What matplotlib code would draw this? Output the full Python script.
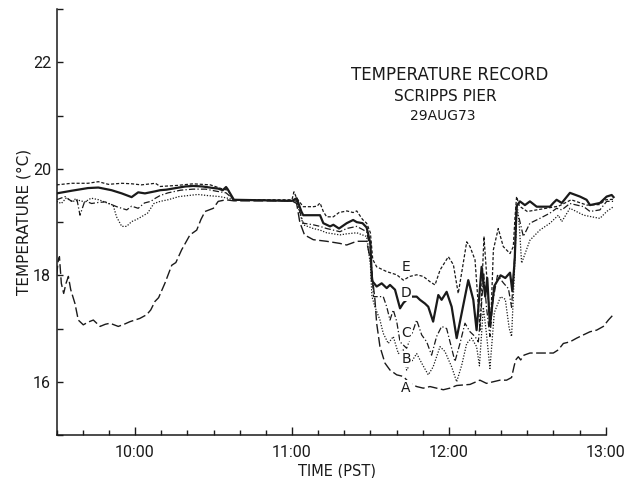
import matplotlib
matplotlib.use('Agg')
import matplotlib.pyplot as plt
from matplotlib.ticker import FixedLocator, FuncFormatter

# time in decimal hours (PST), temperature in deg C
a_time = [9.50, 9.511, 9.518, 9.53, 9.545, 9.56, 9.575, 9.59, 9.617, 9.638, 9.67, 9.70, 9.734,
          9.777, 9.81, 9.84, 9.893, 9.93, 9.968, 10.03, 10.074, 10.10, 10.127, 10.15, 10.19,
          10.234, 10.26, 10.297, 10.35, 10.393, 10.42, 10.446, 10.499, 10.53, 10.58, 10.63,
          11.00, 11.03, 11.05, 11.08, 11.136, 11.221, 11.306, 11.349, 11.413, 11.476, 11.50,
          11.529, 11.54, 11.561, 11.593, 11.625, 11.668, 11.71, 11.752, 11.795, 11.837, 11.88,
          11.922, 11.965, 12.007, 12.05, 12.092, 12.135, 12.198, 12.24, 12.283, 12.326, 12.368,
          12.40, 12.415, 12.426, 12.443, 12.458, 12.479, 12.517, 12.581, 12.666, 12.698, 12.73,
          12.772, 12.815, 12.857, 12.90, 12.942, 12.985, 13.017, 13.048]
a_temp = [18.0, 18.29, 18.35, 17.85, 17.66, 17.85, 17.98, 17.73, 17.47, 17.16, 17.07, 17.12, 17.16,
          17.04, 17.08, 17.10, 17.04, 17.08, 17.13, 17.19, 17.26, 17.35, 17.51, 17.58, 17.85,
          18.19, 18.24, 18.48, 18.76, 18.85, 19.05, 19.20, 19.26, 19.39, 19.42, 19.40,
          19.40, 19.35, 19.00, 18.76, 18.67, 18.64, 18.60, 18.57, 18.64, 18.64, 18.30,
          17.54, 17.10, 16.66, 16.35, 16.22, 16.13, 16.10, 15.97, 15.91, 15.88, 15.91,
          15.88, 15.85, 15.88, 15.93, 15.94, 15.95, 16.03, 15.97, 16.00, 16.03, 16.03,
          16.08, 16.28, 16.41, 16.47, 16.41, 16.50, 16.54, 16.54, 16.54, 16.60, 16.72,
          16.75, 16.82, 16.88, 16.94, 16.97, 17.04, 17.16, 17.26]

b_time = [9.50, 9.53, 9.56, 9.60, 9.64, 9.68, 9.72, 9.77, 9.83, 9.86, 9.882, 9.915, 9.946,
          9.978, 10.01, 10.04, 10.08, 10.12, 10.16, 10.21, 10.28, 10.34, 10.40, 10.46, 10.54,
          10.59, 10.63, 11.00, 11.03, 11.072, 11.136, 11.179, 11.221, 11.264, 11.306, 11.349,
          11.413, 11.476, 11.50, 11.51, 11.529, 11.561, 11.582, 11.614, 11.646, 11.678, 11.71,
          11.731, 11.763, 11.795, 11.827, 11.869, 11.90, 11.944, 11.975, 12.018, 12.05, 12.082,
          12.114, 12.145, 12.177, 12.195, 12.22, 12.24, 12.262, 12.29, 12.33, 12.36, 12.385,
          12.40, 12.42, 12.435, 12.45, 12.464, 12.517, 12.58, 12.645, 12.698, 12.72, 12.772,
          12.86, 12.963, 13.006, 13.05]
b_temp = [19.39, 19.35, 19.45, 19.39, 19.41, 19.38, 19.45, 19.42, 19.35, 19.32, 19.10, 18.92, 18.92,
          19.01, 19.05, 19.10, 19.17, 19.35, 19.39, 19.42, 19.48, 19.50, 19.52, 19.50, 19.48,
          19.45, 19.42, 19.40, 19.38, 18.95, 18.88, 18.85, 18.80, 18.78, 18.76, 18.78,
          18.80, 18.73, 18.20, 17.60, 17.41, 17.16, 16.91, 16.72, 16.85, 16.53, 16.60,
          16.22, 16.38, 16.53, 16.35, 16.13, 16.28, 16.66, 16.57, 16.28, 16.00, 16.31,
          16.72, 16.82, 16.66, 16.30, 17.40, 16.90, 16.25, 17.30, 17.60, 17.55, 17.00,
          16.85, 18.20, 19.35, 18.90, 18.23, 18.66, 18.85, 18.98, 19.13, 19.01, 19.26,
          19.13, 19.07, 19.20, 19.29]

c_time = [9.50, 9.554, 9.596, 9.628, 9.649, 9.68, 9.723, 9.766, 9.81, 9.85, 9.883, 9.915, 9.947,
          9.978, 10.02, 10.06, 10.10, 10.13, 10.16, 10.21, 10.29, 10.37, 10.45, 10.52, 10.58,
          10.63, 11.00, 11.03, 11.072, 11.136, 11.179, 11.221, 11.264, 11.306, 11.349, 11.413,
          11.476, 11.50, 11.52, 11.55, 11.582, 11.604, 11.625, 11.646, 11.668, 11.689, 11.731,
          11.763, 11.795, 11.827, 11.859, 11.89, 11.922, 11.954, 11.986, 12.018, 12.039, 12.071,
          12.103, 12.135, 12.167, 12.188, 12.205, 12.222, 12.24, 12.262, 12.28, 12.31, 12.35,
          12.38, 12.40, 12.42, 12.432, 12.45, 12.475, 12.517, 12.58, 12.645, 12.687, 12.72,
          12.772, 12.86, 12.90, 12.963, 13.006, 13.05]
c_temp = [19.42, 19.48, 19.39, 19.45, 19.13, 19.40, 19.35, 19.37, 19.38, 19.33, 19.29, 19.26, 19.23,
          19.30, 19.26, 19.36, 19.39, 19.45, 19.50, 19.55, 19.60, 19.62, 19.62, 19.58, 19.55,
          19.42, 19.40, 19.40, 18.98, 18.95, 18.92, 18.88, 18.85, 18.82, 18.88, 18.92,
          18.82, 18.50, 17.60, 17.60, 17.60, 17.41, 17.16, 17.35, 17.13, 16.75, 16.63,
          16.88, 17.16, 16.88, 16.75, 16.50, 16.85, 17.04, 17.00, 16.63, 16.38, 16.72,
          17.10, 16.94, 16.85, 16.75, 17.30, 18.05, 17.40, 16.85, 17.50, 18.00, 17.85,
          17.75, 17.40, 18.40, 19.20, 19.05, 18.73, 18.98, 19.07, 19.17, 19.26, 19.23,
          19.35, 19.29, 19.20, 19.23, 19.39, 19.39]

d_time = [9.50, 9.596, 9.70, 9.766, 9.85, 9.915, 9.978, 10.02, 10.063, 10.13, 10.16, 10.20,
          10.26, 10.32, 10.37, 10.43, 10.50, 10.53, 10.559, 10.58, 10.59, 10.63, 11.00, 11.03,
          11.06, 11.072, 11.136, 11.179, 11.20, 11.243, 11.264, 11.30, 11.349, 11.39, 11.413,
          11.45, 11.476, 11.50, 11.51, 11.54, 11.572, 11.604, 11.625, 11.657, 11.689, 11.71,
          11.731, 11.752, 11.795, 11.816, 11.848, 11.869, 11.90, 11.933, 11.954, 11.986, 12.018,
          12.05, 12.082, 12.124, 12.156, 12.177, 12.209, 12.232, 12.245, 12.262, 12.29, 12.33,
          12.36, 12.39, 12.405, 12.42, 12.432, 12.453, 12.485, 12.517, 12.56, 12.602, 12.645,
          12.666, 12.687, 12.72, 12.772, 12.836, 12.878, 12.90, 12.963, 13.006, 13.038, 13.05]
d_temp = [19.54, 19.59, 19.64, 19.65, 19.60, 19.54, 19.47, 19.56, 19.54, 19.58, 19.60, 19.61,
          19.64, 19.67, 19.68, 19.67, 19.64, 19.63, 19.60, 19.66, 19.62, 19.42, 19.40, 19.45,
          19.20, 19.13, 19.13, 19.13, 18.98, 18.92, 18.95, 18.88, 18.98, 19.04, 19.00,
          18.98, 18.90, 18.60, 17.90, 17.79, 17.85, 17.76, 17.82, 17.73, 17.38, 17.48,
          17.54, 17.60, 17.60, 17.54, 17.47, 17.41, 17.13, 17.63, 17.54, 17.69, 17.41,
          16.82, 17.29, 17.91, 17.54, 16.97, 18.16, 17.60, 17.95, 17.05, 17.80, 18.00,
          17.95, 18.05, 17.70, 18.30, 19.30, 19.39, 19.32, 19.39, 19.29, 19.29, 19.29,
          19.36, 19.42, 19.36, 19.55, 19.48, 19.42, 19.32, 19.36, 19.48, 19.51, 19.47]

e_time = [9.50, 9.596, 9.70, 9.766, 9.83, 9.915, 9.98, 10.04, 10.13, 10.16, 10.27, 10.37,
          10.48, 10.56, 10.595, 10.62, 11.00, 11.013, 11.03, 11.072, 11.136, 11.16, 11.179,
          11.20, 11.221, 11.264, 11.30, 11.35, 11.39, 11.413, 11.45, 11.476, 11.50, 11.515,
          11.54, 11.604, 11.668, 11.71, 11.752, 11.795, 11.837, 11.88, 11.912, 11.944, 11.997,
          12.029, 12.06, 12.092, 12.114, 12.135, 12.167, 12.199, 12.224, 12.252, 12.267, 12.284,
          12.315, 12.347, 12.39, 12.411, 12.422, 12.432, 12.45, 12.50, 12.60, 12.70, 12.78,
          12.88, 12.96, 13.00, 13.05]
e_temp = [19.70, 19.73, 19.73, 19.76, 19.71, 19.73, 19.72, 19.70, 19.73, 19.67, 19.69, 19.72,
          19.70, 19.62, 19.60, 19.42, 19.42, 19.57, 19.45, 19.29, 19.29, 19.30, 19.36,
          19.20, 19.10, 19.10, 19.18, 19.21, 19.18, 19.21, 19.05, 18.98, 18.80, 18.30,
          18.16, 18.07, 18.01, 17.91, 17.98, 18.01, 17.98, 17.88, 17.82, 18.10, 18.35,
          18.20, 17.66, 18.23, 18.63, 18.54, 18.29, 16.97, 18.73, 17.54, 17.10, 18.48,
          18.88, 18.54, 18.41, 18.54, 19.10, 19.48, 19.30, 19.20, 19.25, 19.30, 19.42,
          19.32, 19.33, 19.42, 19.43]

line_names = ['A', 'B', 'C', 'D', 'E']
label_time = [11.727, 11.727, 11.727, 11.727, 11.727]
label_temp = [15.88, 16.43, 16.92, 17.67, 18.16]

hour_ticks = [10, 11, 12, 13]
temp_ticks = [16, 18, 20, 22]

ink = '#1a1a1a'
narrow = ['Roboto', 'DejaVu Sans']

fig = plt.figure(figsize=(6.34, 4.78), dpi=100)
ax = fig.add_axes([0.0893, 0.09, 0.8834, 0.8906])

ax.plot(a_time, a_temp, color=ink, lw=1.0, ls=(0, (7, 2.5)))
ax.plot(b_time, b_temp, color=ink, lw=0.9, ls=(0, (1, 1.3)))
ax.plot(c_time, c_temp, color=ink, lw=0.9, ls=(0, (5, 1.8, 1, 1.8)))
ax.plot(d_time, d_temp, color=ink, lw=1.6, ls='-')
ax.plot(e_time, e_temp, color=ink, lw=0.9, ls=(0, (2.5, 1.5)))

for name, t, v in zip(line_names, label_time, label_temp):
    ax.text(t, v, name, ha='center', va='center', fontsize=10, color=ink,
            bbox=dict(fc='white', ec='none', pad=0.6))

ax.set_xlim(9.5, 13.07)
ax.set_ylim(15, 23)
for s in ['top', 'right']:
    ax.spines[s].set_visible(False)
ax.spines['left'].set_bounds(15, 23)
ax.spines['bottom'].set_bounds(9.5, 13.0)
for s in ['left', 'bottom']:
    ax.spines[s].set_linewidth(1.1)
    ax.spines[s].set_color(ink)

ax.xaxis.set_major_locator(FixedLocator(hour_ticks))
ax.xaxis.set_minor_locator(FixedLocator([9.5 + i / 6 for i in range(22)]))
ax.xaxis.set_major_formatter(FuncFormatter(lambda x, p: '%d:%02d' % (int(x), round((x % 1) * 60))))
ax.yaxis.set_major_locator(FixedLocator(temp_ticks))
ax.yaxis.set_minor_locator(FixedLocator([15, 17, 19, 21, 23]))

ax.tick_params(axis='x', which='major', direction='in', length=6, width=1.0, pad=7, colors=ink)
ax.tick_params(axis='x', which='minor', direction='in', length=3.8, width=1.0, colors=ink)
ax.tick_params(axis='y', which='both', direction='in', length=4.3, width=1.0, pad=4, colors=ink)
for lab in ax.get_xticklabels() + ax.get_yticklabels():
    lab.set_family(narrow)
    lab.set_fontsize(11.5)

ax.set_xlabel('TIME (PST)', fontsize=10.5, color=ink, labelpad=3)
ax.set_ylabel('TEMPERATURE (°C)', fontsize=11, color=ink, labelpad=1)

ax.text(12.008, 21.77, 'TEMPERATURE RECORD', ha='center', va='center', fontsize=12, color=ink)
ax.text(11.976, 21.36, 'SCRIPPS PIER', ha='center', va='center', fontsize=11, color=ink)
ax.text(11.96, 21.0, '29AUG73', ha='center', va='center', fontsize=10, color=ink)

fig.savefig('out.png', dpi=100)
